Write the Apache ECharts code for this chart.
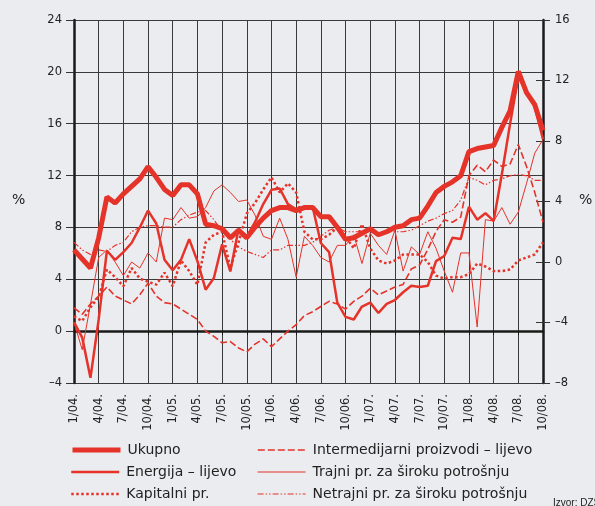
<!DOCTYPE html>
<html>
<head>
<meta charset="utf-8">
<script src="https://cdn.jsdelivr.net/npm/echarts@6/dist/echarts.min.js"></script>
<style>
  html, body { margin: 0; padding: 0; background: #ebecef; }
  #chart { width: 595px; height: 506px; }
</style>
</head>
<body>
<div id="chart"></div>
<script>
// mjeseci 1/04. - 10/08.
const months = [
  '1/04.','2/04.','3/04.','4/04.','5/04.','6/04.','7/04.','8/04.','9/04.','10/04.','11/04.','12/04.',
  '1/05.','2/05.','3/05.','4/05.','5/05.','6/05.','7/05.','8/05.','9/05.','10/05.','11/05.','12/05.',
  '1/06.','2/06.','3/06.','4/06.','5/06.','6/06.','7/06.','8/06.','9/06.','10/06.','11/06.','12/06.',
  '1/07.','2/07.','3/07.','4/07.','5/07.','6/07.','7/07.','8/07.','9/07.','10/07.','11/07.','12/07.',
  '1/08.','2/08.','3/08.','4/08.','5/08.','6/08.','7/08.','8/08.','9/08.','10/08.'
]

// desna os
const ukupno = [0.8,0.2,-0.4,1.6,4.3,3.9,4.5,5.0,5.5,6.3, 5.6,4.8,4.4,5.1,5.1,4.5,2.5,2.4,2.2,1.6,
  2.1,1.6,2.3,2.9,3.4,3.6,3.6,3.4,3.6,3.6, 3.0,3.0,2.3,1.5,1.6,1.9,2.2,1.8,2.0,2.3,
  2.4,2.8,2.9,3.7,4.6,5.0,5.3,5.7,7.3,7.5, 7.6,7.7,8.9,10.0,12.6,11.2,10.4,8.7]
// lijeva os
const energija = [0.7,-0.5,-3.6,0.9,6.2,5.5,6.1,6.8,8.0,9.3, 8.3,5.5,4.7,5.5,7.1,5.4,3.2,4.1,6.7,4.6,
  7.9,7.3,8.4,9.8,10.9,11.0,9.8,9.4,9.6,9.6, 6.8,6.1,2.2,1.1,0.9,1.9,2.2,1.4,2.1,2.4,
  3.0,3.5,3.4,3.5,5.4,5.8,7.2,7.1,9.6,8.6, 9.1,8.5,12.1,16.0,19.6,18.5,17.3,14.8]
const kapitalni = [-3.6,-3.9,-3.0,-2.3,-0.5,-1.0,-1.6,-0.4,-1.1,-1.3, -1.5,-0.7,-1.6,0.1,-0.6,-1.5,1.3,1.8,2.0,-0.4,
  1.3,3.2,3.9,4.8,5.6,4.6,5.2,4.6,2.0,1.5, 1.5,1.8,2.3,1.7,0.9,2.5,0.9,0.1,-0.1,0.1,
  0.5,0.5,0.5,0,-0.9,-1.1,-1.0,-1.0,-0.8,-0.1, -0.3,-0.6,-0.6,-0.5,0.1,0.3,0.5,1.3]
// lijeva os
const intermedijarni = [1.8,1.3,2.1,2.7,3.4,2.7,2.4,2.1,2.8,3.7, 2.7,2.2,2.1,1.7,1.3,0.9,0,-0.4,-0.9,-0.8,
  -1.3,-1.6,-1.0,-0.6,-1.2,-0.6,0,0.5,1.2,1.5, 1.9,2.3,2.1,1.7,2.3,2.7,3.3,2.8,3.1,3.4,
  3.6,4.8,5.1,6.3,7.7,8.6,8.4,8.8,12.0,12.8, 12.3,13.2,12.7,12.9,14.4,12.7,10.7,8.4]
const trajni = [-4.0,-5.8,-2.8,0.3,0.8,0,-0.9,0,-0.4,0.6, 0,2.9,2.8,3.6,2.9,3.0,3.6,4.7,5.1,4.6,
  4.0,4.1,3.1,1.7,1.5,2.9,1.5,-1.0,1.7,1.1, 0.3,0,1.1,1.1,1.8,-0.1,1.9,1.1,0.5,2.1,
  -0.6,1.0,0.5,2.0,0.9,-0.6,-2.0,0.6,0.6,-4.3, 2.8,2.7,3.6,2.5,3.3,5.2,7.2,8.1]
const netrajni = [1.3,0.8,0.5,0.8,0.7,1.1,1.3,2.0,2.3,2.4, 2.4,2.3,2.3,2.8,3.1,3.3,3.4,2.8,2.0,1.5,
  1.0,0.7,0.5,0.3,0.8,0.8,1.1,1.1,1.1,1.3, 1.7,2.1,2.3,2.0,2.0,2.0,2.0,1.9,2.0,2.0,
  2.0,2.1,2.4,2.7,2.9,3.2,3.4,4.1,5.6,5.4, 5.1,5.4,5.5,5.7,5.8,5.7,5.4,5.4]

const red = '#e5332a'
const font = 'Liberation Sans, Arial, sans-serif'
const wide = 'DejaVu Sans, sans-serif'
const minus = v => String(v).replace('-', '\u2013')

// stilovi linija
const styles = {
  'Ukupno': { width: 5, type: 'solid' },
  'Energija – lijevo': { width: 2.5, type: 'solid' },
  'Kapitalni pr.': { width: 2.5, type: [2.5, 2.5] },
  'Intermedijarni proizvodi – lijevo': { width: 1.6, type: [7, 3] },
  'Trajni pr. za široku potrošnju': { width: 1.2, type: 'solid' },
  'Netrajni pr. za široku potrošnju': { width: 1.2, type: [6, 2, 1.5, 2, 1.5, 2] }
}

let chart = echarts.init(document.getElementById('chart'))

function line (name, data, axis, z) {
  let s = styles[name]
  return {
    name: name,
    type: 'line',
    data: data,
    yAxisIndex: axis,
    symbol: 'none',
    showSymbol: false,
    z: z,
    lineStyle: { color: red, width: name === 'Trajni pr. za široku potrošnju' ? 1 : s.width, type: s.type, cap: 'butt' },
    itemStyle: { color: red }
  }
}

function legendItem (name, left, top) {
  let s = styles[name]
  return {
    data: [name],
    left: left,
    top: top,
    itemWidth: 48,
    itemHeight: 14,
    itemGap: 0,
    padding: 0,
    selectedMode: false,
    itemStyle: { opacity: 0 },
    lineStyle: { color: red, width: s.width, type: s.type, cap: 'butt' },
    textStyle: { fontSize: 14, color: '#222', fontFamily: wide, padding: [0, 0, 0, 2] }
  }
}

let option = {
  backgroundColor: '#ebecef',
  animation: false,
  textStyle: { fontFamily: font },
  grid: { left: 74, right: 52, top: 20, bottom: 123 },
  legend: [
    legendItem('Ukupno', 70, 443),
    legendItem('Energija – lijevo', 70, 465),
    legendItem('Kapitalni pr.', 70, 487),
    legendItem('Intermedijarni proizvodi – lijevo', 257, 443),
    legendItem('Trajni pr. za široku potrošnju', 257, 465),
    legendItem('Netrajni pr. za široku potrošnju', 257, 487)
  ],
  xAxis: {
    type: 'category',
    data: months,
    boundaryGap: false,
    axisLine: { lineStyle: { color: '#1a1a1a', width: 2.5 } },
    axisTick: { interval: 2, length: 4, lineStyle: { color: '#1a1a1a' } },
    axisLabel: { interval: 2, rotate: 90, margin: 11, fontSize: 11.5, color: '#222', fontFamily: wide },
    splitLine: { show: true, interval: 2, lineStyle: { color: '#3a3a3a', width: 1 } }
  },
  yAxis: [
    {
      type: 'value', min: -4, max: 24, interval: 4, position: 'left',
      axisLine: { show: true, lineStyle: { color: '#1a1a1a', width: 2.5 } },
      axisTick: { show: true, length: 8, lineStyle: { color: '#333' } },
      axisLabel: { margin: 12, fontSize: 11.5, color: '#222', fontFamily: wide, formatter: minus },
      splitLine: { show: true, lineStyle: { color: '#3a3a3a', width: 1 } }
    },
    {
      type: 'value', min: -8, max: 16, interval: 4, position: 'right',
      axisLine: { show: true, lineStyle: { color: '#1a1a1a', width: 2.5 } },
      axisTick: { show: true, inside: true, length: 7, lineStyle: { color: '#333' } },
      axisLabel: { show: false },
      splitLine: { show: false }
    },
    {
      type: 'value', min: -8, max: 16, interval: 4, position: 'right',
      axisLine: { show: false },
      axisTick: { show: true, length: 7, lineStyle: { color: '#333' } },
      axisLabel: { margin: 12, fontSize: 11.5, color: '#222', fontFamily: wide, formatter: minus },
      splitLine: { show: false }
    }
  ],
  graphic: [
    { type: 'text', left: 12, top: 193, style: { text: '%', fontSize: 14, fill: '#222', fontFamily: wide } },
    { type: 'text', left: 579, top: 193, style: { text: '%', fontSize: 14, fill: '#222', fontFamily: wide } },
    { type: 'text', left: 553, top: 498, style: { text: 'Izvor: DZS', fontSize: 10, fill: '#222', fontFamily: font } }
  ],
  series: [
    line('Trajni pr. za široku potrošnju', trajni, 1, 2),
    line('Netrajni pr. za široku potrošnju', netrajni, 1, 3),
    line('Intermedijarni proizvodi – lijevo', intermedijarni, 0, 4),
    line('Kapitalni pr.', kapitalni, 1, 5),
    line('Energija – lijevo', energija, 0, 6),
    line('Ukupno', ukupno, 1, 7)
  ]
}
chart.setOption(option)
</script>
</body>
</html>
